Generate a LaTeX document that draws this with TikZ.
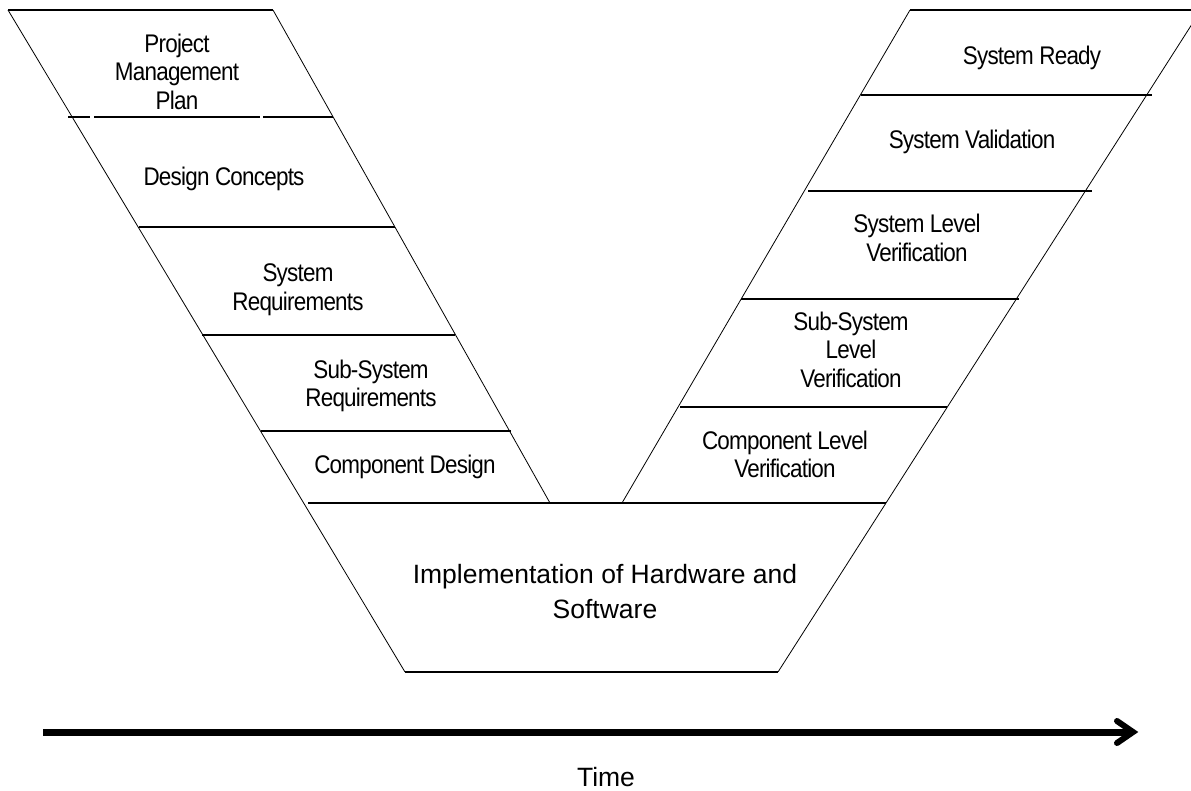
\documentclass[tikz,border=0pt]{standalone}
\usepackage{fontspec}
\setmainfont{Liberation Sans}
\newfontfamily\tightf[LetterSpace=-3,FakeStretch=0.88]{Liberation Sans}
\begin{document}
\begin{tikzpicture}[x=1pt,y=-1pt,
  edge/.style={line width=0.8pt},
  rung/.style={line width=2pt},
  lbl/.style={font={\tightf\fontsize{25.5}{28.5}\selectfont}, align=center, inner sep=0pt},
  biglbl/.style={font={\fontsize{26.5}{35}\selectfont}, align=center, inner sep=0pt}]
\useasboundingbox (0,0) rectangle (1191,790);
\clip (0,0) rectangle (1191,790);
\fill[white] (0,0) rectangle (1191,790);

% key coordinates
\coordinate (LOt) at (8,10);      % left outer top
\coordinate (LOb) at (405,672);   % left outer bottom
\coordinate (LIt) at (273,10);    % left inner top
\coordinate (LIb) at (550,503);   % left inner bottom
\coordinate (RIt) at (910,10);    % right inner top
\coordinate (RIb) at (622,503);   % right inner bottom
\coordinate (ROt) at (1201,10);   % right outer top
\coordinate (ROb) at (778,672);   % right outer bottom

% slanted edges
\draw[edge] (LOt) -- (LOb);
\draw[edge] (LIt) -- (LIb);
\draw[edge] (RIt) -- (RIb);
\draw[edge] (ROt) -- (ROb);

% left band rungs
\draw[rung] (LOt) -- (LIt);
\draw[rung] (68,117) -- (90,117);
\draw[rung] (94,117) -- (260,117);
\draw[rung] (263,117) -- (333,117);
\draw[rung] (139,227) -- (395,227);
\draw[rung] (202,335) -- (455,335);
\draw[rung] (261,431) -- (511,431);
% bottom trapezoid
\draw[rung] (308,503) -- (886,503);
\draw[rung] (405,672) -- (ROb);
% right band rungs
\draw[rung] (RIt) -- (1195,10);
\draw[rung] (861,95) -- (1152,95);
\draw[rung] (808,191) -- (1092,191);
\draw[rung] (741,299) -- (1019,299);
\draw[rung] (680,407) -- (947,407);

% labels
\node[lbl] (pmp) at (177,71.5) {Project\\Management\\Plan};
\node[lbl] (dc) at (224,178.5) {Design Concepts};
\node[lbl] (sr) at (298,289.5) {System\\Requirements};
\node[lbl] (ssr) at (371,386) {Sub-System\\Requirements};
\node[lbl] (cd) at (405,466.5) {Component Design};
\node[biglbl] (impl) at (605,591.5) {Implementation of Hardware and\\Software};
\node[lbl] (rdy) at (1032,58) {System Ready};
\node[lbl] (val) at (972,141.5) {System Validation};
\node[lbl] (slv) at (917,238) {System Level\\Verification};
\node[lbl] (sslv) at (851,349.5) {Sub-System\\Level\\Verification};
\node[lbl] (clv) at (785,454.5) {Component Level\\Verification};

% time arrow
\coordinate (ts) at (43,732);
\coordinate (te) at (1131,732);
\coordinate (tv) at (1133,732);
\coordinate (ta) at (1117,721);
\coordinate (tb) at (1117,743);
\draw[line width=7pt, line cap=butt] (ts) -- (te);
\draw[line width=6pt, line cap=round, line join=miter] (ta) -- (tv) -- (tb);
\node[biglbl] (time) at (606,777.5) {Time};
\end{tikzpicture}
\end{document}
